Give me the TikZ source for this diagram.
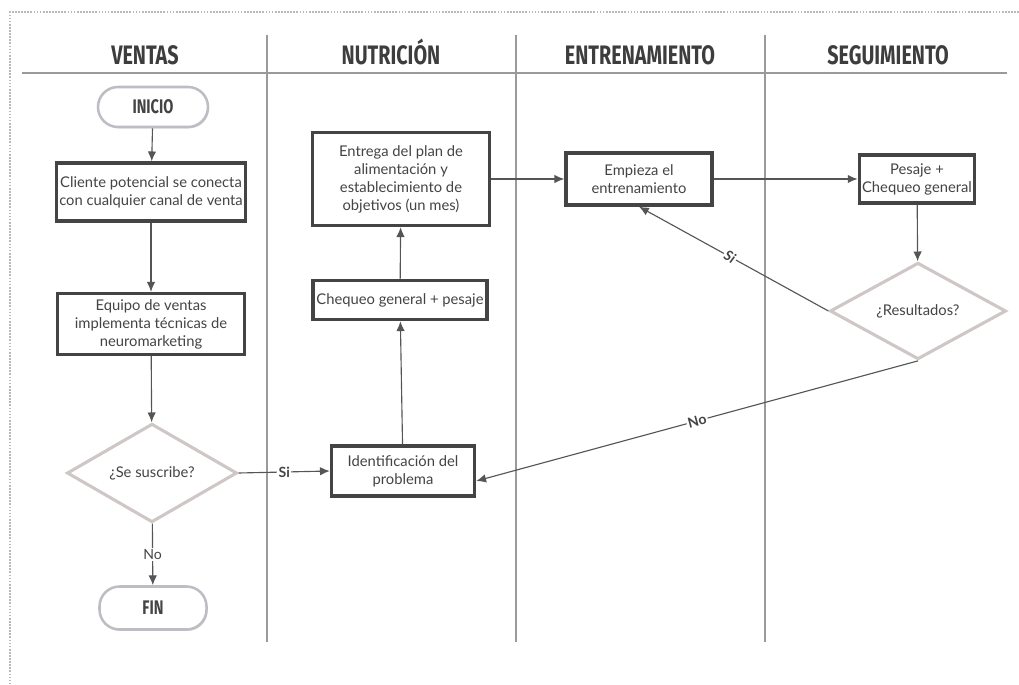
\documentclass[tikz,border=0pt]{standalone}
\usepackage{fontspec}
\setmainfont{Lato}
\newfontfamily\headfont[FakeStretch=0.74]{Fira Sans}
\usetikzlibrary{shapes.geometric,arrows.meta,shadows}
\definecolor{ink}{HTML}{444444}
\definecolor{linec}{HTML}{555555}
\definecolor{lanec}{HTML}{9A9A9A}
\definecolor{dmd}{HTML}{CFC6C6}
\definecolor{pill}{HTML}{BDBDC4}
\tikzset{
  lbl/.style={font=\fontsize{10.5}{12.8}\selectfont, text=ink, align=center},
  procbox/.style={lbl, draw=ink, line width=2.4pt, fill=white, inner sep=2pt,
    drop shadow={opacity=0.25, shadow xshift=0.6pt, shadow yshift=-0.6pt}},
  decision/.style={lbl, diamond, draw=dmd, line width=2.2pt, fill=white, inner sep=0pt},
  terminal/.style={draw=pill, line width=1.8pt, fill=white, rounded corners=0.5cm,
    font=\headfont\bfseries\fontsize{14}{16}\selectfont, text=ink,
    drop shadow={opacity=0.3, shadow xshift=0.8pt, shadow yshift=-1pt}},
  lanehead/.style={anchor=base, font=\headfont\bfseries\fontsize{19}{22}\selectfont, text=ink!90!black},
  flow/.style={draw=linec, line width=0.8pt, -{Latex[length=7pt,width=6pt]}},
  edgelbl/.style={fill=white, inner sep=1pt, text=ink, font=\fontsize{10}{12}\selectfont},
}
\begin{document}
\begin{tikzpicture}[x=0.025cm, y=-0.025cm]
\useasboundingbox (0,0) rectangle (1019,684);
% outer frame
\draw[gray!55, line width=1.2pt, densely dotted] (1019,12) -- (10,12) -- (10,684);

% swimlane grid
\draw[lanec, line width=1pt] (22,73) -- (1007,73);
\foreach \lx in {267,516,765} \draw[lanec, line width=1pt] (\lx,35) -- (\lx,642);
\node[lanehead] (h1) at (145,64) {VENTAS};
\node[lanehead] (h2) at (391,64) {NUTRICIÓN};
\node[lanehead] (h3) at (640,64) {ENTRENAMIENTO};
\node[lanehead] (h4) at (888,64) {SEGUIMIENTO};

% ventas lane
\node[terminal, minimum width=2.75cm, minimum height=1.0cm] (ini) at (153,107) {INICIO};
\node[procbox, minimum width=4.675cm, minimum height=1.45cm] (cli) at (151,192)
  {Cliente potencial se conecta\\con cualquier canal de venta};
\node[procbox, minimum width=4.675cm, minimum height=1.525cm] (eq) at (151,324)
  {Equipo de ventas\\implementa técnicas de\\neuromarketing};
\node[decision, minimum width=4.25cm, minimum height=2.075cm] (sus) at (152,473) {¿Se suscribe?};
\node[terminal, minimum width=2.675cm, minimum height=1.075cm] (fin) at (153,608) {FIN};

% nutricion lane
\node[procbox, minimum width=3.575cm, minimum height=1.25cm] (idp) at (403,471)
  {Identificación del\\problema};
\node[procbox, minimum width=4.35cm, minimum height=0.975cm] (chq) at (400,300)
  {Chequeo general + pesaje};
\node[procbox, minimum width=4.425cm, minimum height=2.325cm] (plan) at (401,179)
  {Entrega del plan de\\alimentación y\\establecimiento de\\objetivos (un mes)};

% entrenamiento lane
\node[procbox, minimum width=3.65cm, minimum height=1.3cm] (emp) at (639,179)
  {Empieza el\\entrenamiento};

% seguimiento lane
\node[procbox, minimum width=2.775cm, minimum height=1.2cm] (pes) at (917,179)
  {Pesaje +\\Chequeo general};
\node[decision, minimum width=4.4cm, minimum height=1.95cm] (res) at (918,311) {¿Resultados?};

% connectors
\draw[flow] (ini) -- (cli);
\draw[flow] (cli) -- (eq);
\draw[flow] (eq) -- (sus);
\draw[flow] (sus) -- node[edgelbl] {No} (fin);
\draw[flow] (sus.east) -- node[edgelbl, font=\bfseries\fontsize{10}{12}\selectfont] {Si} (idp.west);
\draw[flow] (idp) -- (chq);
\draw[flow] (chq) -- (plan);
\draw[flow] (plan.east) -- (emp.west);
\draw[flow] (emp.east) -- (pes.west);
\draw[flow] (pes) -- (res);
\draw[flow] (res.west) -- node[edgelbl, sloped, pos=0.52, font=\bfseries\itshape\fontsize{10}{12}\selectfont] {Si} (emp.south);
\draw[flow] (res.south) -- node[edgelbl, sloped, pos=0.5, font=\bfseries\fontsize{10}{12}\selectfont] {No} ([yshift=-0.25cm]idp.east);
\end{tikzpicture}
\end{document}
